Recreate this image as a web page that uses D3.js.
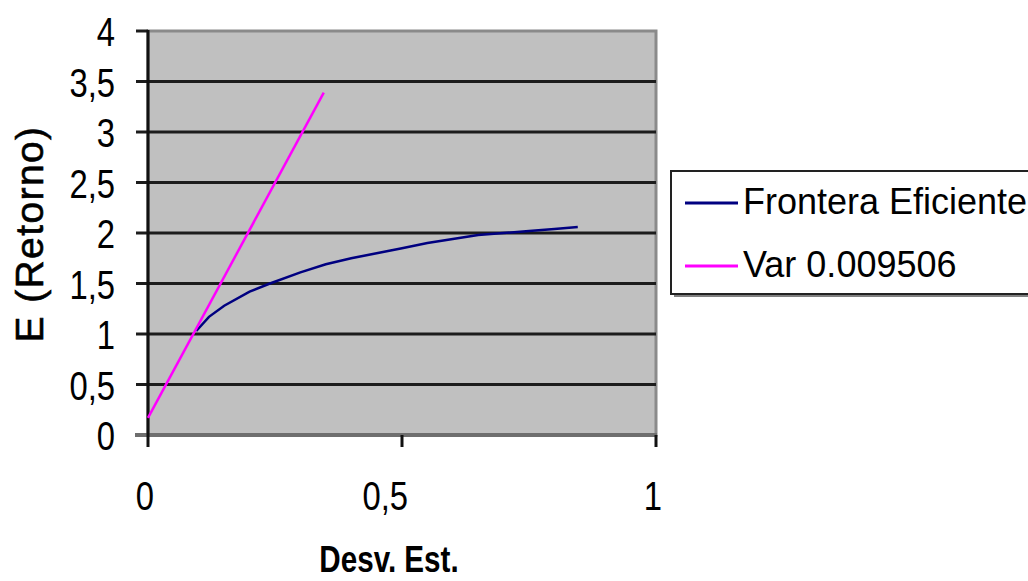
<!DOCTYPE html>
<html>
<head>
<meta charset="utf-8">
<script src="https://cdn.jsdelivr.net/npm/d3@7"></script>
<style>
  html, body { margin: 0; padding: 0; background: #fff; }
  svg { display: block; }
  text { font-family: "Liberation Sans", Arial, sans-serif; fill: #000; }
</style>
</head>
<body>
<svg id="chart" width="1028" height="581"></svg>
<script>
// Efficient frontier (standard deviation vs expected return)
const frontierRisk   = [0.095, 0.12, 0.15, 0.20, 0.24, 0.30, 0.35, 0.40, 0.45, 0.50, 0.55, 0.60, 0.65, 0.70, 0.75, 0.80, 0.846];
const frontierReturn = [1.03, 1.17, 1.28, 1.42, 1.50, 1.61, 1.69, 1.75, 1.80, 1.85, 1.90, 1.94, 1.98, 2.00, 2.02, 2.04, 2.06];

// Capital line for Var 0.009506
const varRisk   = [0, 0.346];
const varReturn = [0.17, 3.39];

const yTicks = [0, 0.5, 1, 1.5, 2, 2.5, 3, 3.5, 4];
const xTicks = [0, 0.5, 1];
const seriesNames = ["Frontera Eficiente", "Var 0.009506"];
const seriesColors = ["#000080", "#ff00ff"];
const xTitle = "Desv. Est.";
const yTitle = "E (Retorno)";

const fmt = v => String(v).replace(".", ",");

const svg = d3.select("#chart");
const x = d3.scaleLinear().domain([0, 1]).range([148, 656]);
const y = d3.scaleLinear().domain([0, 4]).range([435, 31]);

// plot area
svg.append("rect")
  .attr("x", x(0)).attr("y", y(4))
  .attr("width", x(1) - x(0)).attr("height", y(0) - y(4))
  .attr("fill", "#c0c0c0")
  .attr("stroke", "#8a8a8a").attr("stroke-width", 3);

// horizontal gridlines with left ticks
const inner = yTicks.filter(v => v > 0 && v < 4);
svg.append("g").selectAll("line").data(inner).join("line")
  .attr("x1", x(0) - 12).attr("x2", x(1))
  .attr("y1", d => y(d)).attr("y2", d => y(d))
  .attr("stroke", "#1c1c1c").attr("stroke-width", 3);

// bottom edge (zero line) in gray
svg.append("line")
  .attr("x1", x(0) - 13).attr("x2", x(1) + 1)
  .attr("y1", y(0)).attr("y2", y(0))
  .attr("stroke", "#6e6e6e").attr("stroke-width", 4);

// top tick
svg.append("line")
  .attr("x1", x(0) - 12).attr("x2", x(0))
  .attr("y1", y(4)).attr("y2", y(4))
  .attr("stroke", "#1c1c1c").attr("stroke-width", 3);

// y axis line
svg.append("line")
  .attr("x1", x(0)).attr("x2", x(0))
  .attr("y1", y(4) - 1).attr("y2", y(0) + 12)
  .attr("stroke", "#111").attr("stroke-width", 3);

// x ticks
svg.append("g").selectAll("line").data(xTicks.filter(v => v > 0)).join("line")
  .attr("x1", d => x(d)).attr("x2", d => x(d))
  .attr("y1", y(0)).attr("y2", y(0) + 12)
  .attr("stroke", "#111").attr("stroke-width", 3);

// y tick labels
svg.append("g").selectAll("text").data(yTicks).join("text")
  .attr("transform", d => `translate(115,${y(d) + 15}) scale(0.8,1)`)
  .attr("text-anchor", "end")
  .attr("font-size", 41)
  .attr("fill", "#1a1a1a")
  .text(fmt);

// x tick labels
svg.append("g").selectAll("text").data(xTicks).join("text")
  .attr("transform", d => `translate(${x(d) + 6},510) scale(0.8,1)`)
  .attr("text-anchor", "end")
  .attr("font-size", 41)
  .attr("fill", "#1a1a1a")
  .text(fmt);

// axis titles
svg.append("text")
  .attr("transform", "translate(389,572) scale(0.8,1)")
  .attr("text-anchor", "middle")
  .attr("font-size", 37).attr("font-weight", "bold")
  .text(xTitle);

svg.append("text")
  .attr("transform", "translate(43,234) rotate(-90)")
  .attr("text-anchor", "middle")
  .attr("font-size", 39)
  .attr("letter-spacing", 1.4)
  .attr("stroke", "#000").attr("stroke-width", 0.6)
  .text(yTitle);

// series
const line = d3.line().x(d => x(d[0])).y(d => y(d[1]));
const frontier = frontierRisk.map((r, i) => [r, frontierReturn[i]]);
const varLine = varRisk.map((r, i) => [r, varReturn[i]]);

svg.append("path").datum(frontier)
  .attr("d", line).attr("fill", "none")
  .attr("stroke", seriesColors[0]).attr("stroke-width", 2.5);

svg.append("path").datum(varLine)
  .attr("d", line).attr("fill", "none")
  .attr("stroke", seriesColors[1]).attr("stroke-width", 2.5);

// legend
const lg = svg.append("g");
lg.append("rect")
  .attr("x", 674).attr("y", 174).attr("width", 400).attr("height", 123)
  .attr("fill", "#808080");
lg.append("rect")
  .attr("x", 671).attr("y", 171).attr("width", 400).attr("height", 123)
  .attr("fill", "#fff").attr("stroke", "#222").attr("stroke-width", 2);

const legendY = [203, 266];
seriesNames.forEach((name, i) => {
  lg.append("line")
    .attr("x1", 685).attr("x2", 738)
    .attr("y1", legendY[i]).attr("y2", legendY[i])
    .attr("stroke", seriesColors[i]).attr("stroke-width", 3);
  lg.append("text")
    .attr("x", 743).attr("y", legendY[i] + 11)
    .attr("font-size", 36).attr("fill", "#111")
    .text(name);
});
</script>
</body>
</html>
